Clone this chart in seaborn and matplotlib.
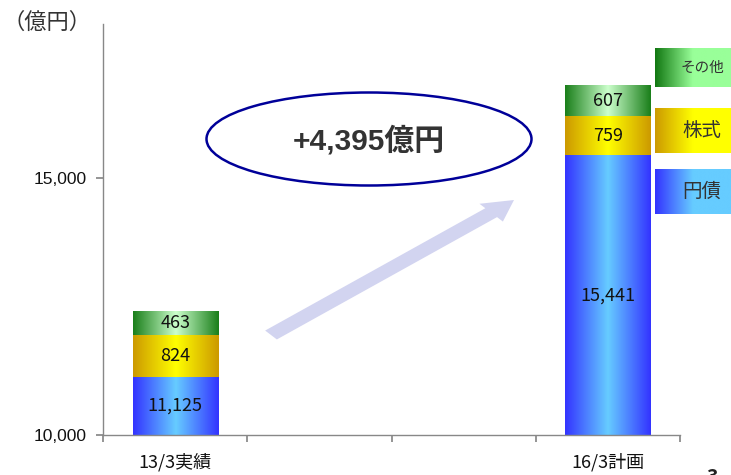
import numpy as np
import pandas as pd
import matplotlib
matplotlib.use("Agg")
import matplotlib.pyplot as plt
import seaborn as sns
from matplotlib.colors import LinearSegmentedColormap
from matplotlib.patches import Ellipse, FancyArrow

# ---- data ----
categories = ["13/3実績", "16/3計画"]
slots = ["13/3実績", "_a", "_b", "16/3計画"]
bonds = [11125, 15441]      # 円債
stocks = [824, 759]         # 株式
others = [463, 607]         # その他
series_names = ["円債", "株式", "その他"]
increase_label = "+4,395億円"
unit_label = "（億円）"
ytick_vals = [10000, 15000]
ytick_labels = ["10,000", "15,000"]

sns.set_theme(style="white")
plt.rcParams["font.family"] = ["Noto Sans CJK JP", "DejaVu Sans"]

fig = plt.figure(figsize=(7.31, 4.75), dpi=100)
ax = fig.add_axes([103/731, 40/475, 577/731, 411/475])
YMIN, YMAX = 10000, 18000

df = pd.DataFrame({
    "cat": categories,
    "bond": bonds,
    "stock": stocks,
    "other": others,
})
df["lvl_bond"] = df["bond"]
df["lvl_stock"] = df["bond"] + df["stock"]
df["lvl_total"] = df["bond"] + df["stock"] + df["other"]

bw = 85/144
layers = [("lvl_total", "other"), ("lvl_stock", "stock"), ("lvl_bond", "bond")]
grad = {
    "bond": ["#3333ff", "#66ccff", "#3333ff"],
    "stock": ["#cc9900", "#ffff00", "#cc9900"],
    "other": ["#1a7f1a", "#ccffcc", "#1a7f1a"],
}
for col, key in layers:
    n_before = len(ax.patches)
    sns.barplot(data=df, x="cat", y=col, order=slots, width=bw,
                color="white", edgecolor="none", ax=ax, zorder=2)
    cmap = LinearSegmentedColormap.from_list(key, grad[key])
    for p in ax.patches[n_before:]:
        h = p.get_height()
        if np.isnan(h) or h == 0:
            continue
        x0 = p.get_x(); w = p.get_width()
        img = np.linspace(0, 1, 256).reshape(1, -1)
        im = ax.imshow(img, cmap=cmap, aspect="auto",
                       extent=[x0, x0 + w, YMIN, h], zorder=2)
        im.set_clip_path(p)
        p.set_facecolor("none")

ax.set_xlim(-0.5, 3.5)
ax.set_ylim(YMIN, YMAX)

# value labels
lab_font = dict(fontsize=13, zorder=5, color="#111111")
for i, c in zip([0, 3], range(len(categories))):
    b, s, o = bonds[c], stocks[c], others[c]
    ax.text(i, (YMIN + b) / 2, f"{b:,}", ha="center", va="center", **lab_font)
    ax.text(i, b + s / 2, f"{s:,}", ha="center", va="center", **lab_font)
    ax.text(i, b + s + o / 2, f"{o:,}", ha="center", va="center", **lab_font)

# axes styling
for side in ["top", "right"]:
    ax.spines[side].set_visible(False)
for side in ["left", "bottom"]:
    ax.spines[side].set_color("#888888")
    ax.spines[side].set_linewidth(1.0)
ax.set_yticks(ytick_vals)
ax.set_yticklabels(ytick_labels, fontsize=12.5, family=["Liberation Sans", "DejaVu Sans"],
                   color="#111111")
ax.set_xticks([-0.5, 0.5, 1.5, 2.5, 3.5])
ax.set_xticklabels([])
ax.tick_params(axis="both", direction="out", length=5, color="#888888",
               left=True, bottom=True, pad=7)
ax.set_xlabel(""); ax.set_ylabel("")
for i, lab in zip([0, 3], categories):
    ax.text(i, -0.067, lab, transform=ax.get_xaxis_transform(),
            ha="center", va="center", fontsize=13, color="#111111")

fig.text(3/731, 1 - 22/475, unit_label, fontsize=16, ha="left", va="center",
         color="#333333")

# ellipse with increase label (figure pixel coords)
ell = Ellipse((369/731, 1 - 139/475), 325/731, 93/475, transform=fig.transFigure,
              facecolor="white", edgecolor="#000099", linewidth=1.8, zorder=10)
fig.patches.append(ell)
fig.text(369/731, 1 - 141/475, increase_label, ha="center", va="center",
         fontsize=21.5, fontweight="bold", color="#333333", zorder=11,
         family=["Liberation Sans", "Noto Sans CJK JP"])

# arrow
x0p, y0p = 271, 335
x1p, y1p = 514, 200
arr = FancyArrow(x0p/731, 1 - y0p/475, (x1p - x0p)/731, -(y1p - y0p)/475,
                 width=18/731, head_width=36/731, head_length=30/731,
                 length_includes_head=True, transform=fig.transFigure,
                 color="#d2d4f0", linewidth=0, zorder=9)
fig.patches.append(arr)

# legend boxes
leg = [("その他", 48, 87, ["#117711", "#99ff99"], 10.5),
       ("株式", 108, 153, ["#cc9900", "#ffff00"], 14),
       ("円債", 169, 214, ["#3333ff", "#66ccff"], 14)]
for name, t, b, cols, fs in leg:
    lax = fig.add_axes([655/731, 1 - b/475, 76/731, (b - t)/475])
    cmap = LinearSegmentedColormap.from_list(name, [cols[0], cols[1], cols[1]])
    lax.imshow(np.linspace(0, 1, 256).reshape(1, -1), cmap=cmap, aspect="auto",
               extent=[0, 1, 0, 1])
    lax.set_xlim(0, 1); lax.set_ylim(0, 1)
    lax.axis("off")
    lax.text(0.62, 0.5, name, ha="center", va="center", fontsize=fs, color="#333333")

fig.text(712/731, -12/475, "3", ha="center", va="bottom", fontsize=14,
         fontweight="bold", color="#222222")

fig.savefig("out.png", dpi=100)
